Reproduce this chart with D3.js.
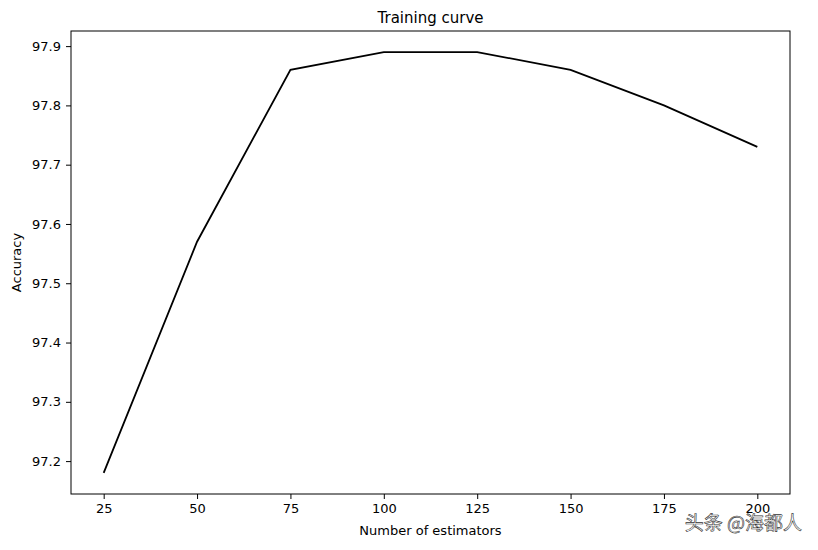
<!DOCTYPE html>
<html><head><meta charset="utf-8">
<script src="https://cdn.jsdelivr.net/npm/d3@7"></script>
<style>body{margin:0;background:#fff}text{font-family:"DejaVu Sans",sans-serif}</style>
</head><body>
<script>
// training curve data
var estimators=[25,50,75,100,125,150,175,200];
var accuracy=[97.18,97.57,97.86,97.89,97.89,97.86,97.80,97.73];
var xticks=[25,50,75,100,125,150,175,200];
var yticks=[97.2,97.3,97.4,97.5,97.6,97.7,97.8,97.9];

var W=818,H=550;
var plotL=71,plotR=790,plotT=31,plotB=494;

var svg=d3.select("body").append("svg").attr("width",W).attr("height",H);

var x=d3.scaleLinear().domain([16.25,208.75]).range([plotL,plotR]);
var y=d3.scaleLinear().domain([97.1445,97.9255]).range([plotB,plotT]);

svg.append("g").attr("transform","translate(0,"+plotB+")")
   .call(d3.axisBottom(x).tickValues(xticks).tickSize(5).tickPadding(5).tickFormat(d3.format("d")))
   .call(function(g){g.select(".domain").remove();g.selectAll("text").style("font-size","13px").attr("fill","#000");});
svg.append("g").attr("transform","translate("+plotL+",0)")
   .call(d3.axisLeft(y).tickValues(yticks).tickSize(5).tickPadding(5).tickFormat(d3.format(".1f")))
   .call(function(g){g.select(".domain").remove();g.selectAll("text").style("font-size","13px").attr("fill","#000");});

svg.append("rect").attr("x",plotL).attr("y",plotT).attr("width",plotR-plotL).attr("height",plotB-plotT)
   .attr("fill","none").attr("stroke","#000").attr("stroke-width",1);

var line=d3.line().x(function(d,i){return x(estimators[i]);}).y(function(d){return y(d);});
svg.append("path").datum(accuracy).attr("d",line).attr("fill","none").attr("stroke","#000").attr("stroke-width",1.8);

svg.append("text").attr("x",(plotL+plotR)/2).attr("y",plotT-8).attr("text-anchor","middle")
   .style("font-size","15px").text("Training curve");
svg.append("text").attr("x",(plotL+plotR)/2).attr("y",535).attr("text-anchor","middle")
   .style("font-size","13px").text("Number of estimators");
svg.append("text").attr("transform","translate(21,"+((plotT+plotB)/2)+") rotate(-90)").attr("text-anchor","middle")
   .style("font-size","13px").text("Accuracy");

// watermark
svg.append("text").attr("x",802).attr("y",530).attr("text-anchor","end")
   .style("font-family","Noto Sans CJK SC").style("font-size","19px").attr("fill","#fff")
   .attr("stroke","#333").attr("stroke-width",0.6).text("头条 @海都人");
</script>
</body></html>
